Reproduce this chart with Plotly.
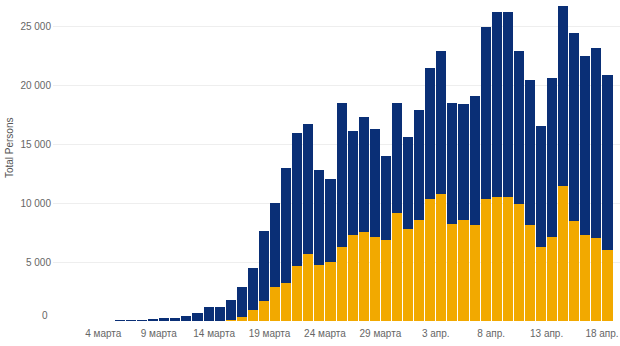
import plotly.graph_objects as go
import pandas as pd

# Daily counts, 1 March - 18 April 2020
dates = pd.date_range("2020-03-01", "2020-04-18", freq="D")

# lower (gold) segment of each daily column
gold_values = [
    0, 0, 0, 0, 0, 0, 0, 0, 0, 0, 0, 0,
    10, 30, 100, 300, 920, 1680, 2880, 3210, 4700, 5670, 4720, 5030,
    6320, 7270, 7550, 7100, 6870, 9190, 7830,
    8570, 10380, 10760, 8250, 8600, 8120, 10380, 10500, 10500, 9910,
    8170, 6270, 7100, 11460, 8490, 7290, 7010, 6000,
]

# upper (navy) segment of each daily column
navy_values = [
    0, 0, 0, 0, 5, 10, 80, 150, 280, 280, 430, 640,
    1160, 1140, 1700, 2550, 3550, 5930, 7110, 9780, 11240, 11040, 8150, 7020,
    12230, 8900, 9750, 9180, 7140, 9360, 7770,
    9350, 11080, 12210, 10290, 9810, 11020, 14570, 15760, 15760, 13060,
    12330, 10320, 13570, 15280, 15990, 15200, 16160, 14930,
]

x_tick_dates = ["2020-03-04", "2020-03-09", "2020-03-14", "2020-03-19",
                "2020-03-24", "2020-03-29", "2020-04-03", "2020-04-08",
                "2020-04-13", "2020-04-18"]
x_tick_labels = ["4 марта", "9 марта", "14 марта", "19 марта", "24 марта",
                 "29 марта", "3 апр.", "8 апр.", "13 апр.", "18 апр."]

y_tick_values = [0, 5000, 10000, 15000, 20000, 25000]
y_tick_labels = ["", "5 000", "10 000", "15 000", "20 000", "25 000"]

GOLD = "#f2a900"
NAVY = "#0a2f76"
FONT = "Liberation Sans, Arial, sans-serif"

fig = go.Figure()
fig.add_trace(go.Bar(
    x=dates, y=gold_values, marker=dict(color=GOLD, line=dict(width=0)),
    xperiod=86400000, xperiodalignment="middle", name="gold",
))
fig.add_trace(go.Bar(
    x=dates, y=navy_values, marker=dict(color=NAVY, line=dict(width=0)),
    xperiod=86400000, xperiodalignment="middle", name="navy",
))

fig.update_layout(
    barmode="stack",
    bargap=0.09,
    width=620, height=346,
    margin=dict(l=53, r=0, t=2, b=25),
    paper_bgcolor="white",
    plot_bgcolor="white",
    showlegend=False,
    font=dict(family=FONT, size=10, color="#666666"),
    xaxis=dict(
        type="date",
        range=["2020-02-28 11:00", "2020-04-19 15:00"],
        tickmode="array",
        tickvals=x_tick_dates,
        ticktext=x_tick_labels,
        showgrid=False,
        zeroline=False,
        showline=False,
        ticks="",
        ticklabelstandoff=5,
        tickfont=dict(family=FONT, size=10, color="#666666"),
    ),
    yaxis=dict(
        range=[0, 27100],
        tickmode="array",
        tickvals=y_tick_values,
        ticktext=y_tick_labels,
        showgrid=True,
        gridcolor="#eeeeee",
        gridwidth=1,
        zeroline=False,
        showline=False,
        ticks="",
        ticklabelstandoff=1,
        tickfont=dict(family=FONT, size=10, color="#666666"),
    ),
)

# the zero label sits slightly above the baseline
fig.add_annotation(
    x=0, xref="paper", y=0, yref="y", text="0", showarrow=False,
    xanchor="right", yanchor="middle", xshift=-3, yshift=6,
    font=dict(family=FONT, size=10, color="#666666"),
)

# vertical axis title
fig.add_annotation(
    x=0, xref="paper", y=0.542, yref="paper", text="Total Persons",
    showarrow=False, textangle=-90, xanchor="center", yanchor="middle",
    xshift=-44, font=dict(family=FONT, size=10, color="#555555"),
)

fig.write_html("out.html")
